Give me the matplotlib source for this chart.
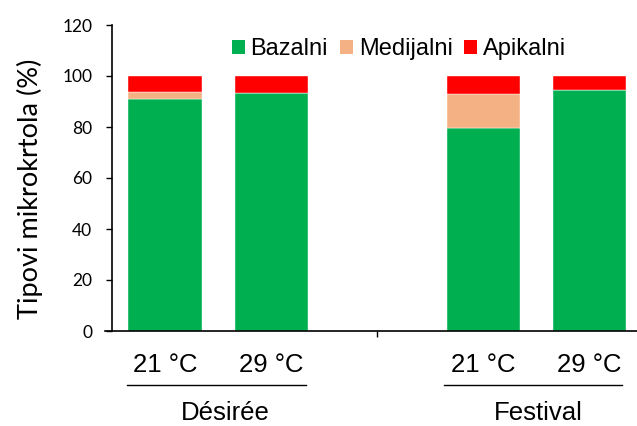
import matplotlib
matplotlib.use("Agg")
import matplotlib.pyplot as plt
import matplotlib.transforms as mtransforms
from matplotlib.patches import Patch

groups = ["Désirée", "Festival"]
temps = ["21 °C", "29 °C", "21 °C", "29 °C"]
bazalni = [91.0, 93.2, 79.7, 94.4]
medijalni = [2.7, 0.0, 13.4, 0.0]
apikalni = [6.3, 6.8, 6.9, 5.6]
series_names = ["Bazalni", "Medijalni", "Apikalni"]
colors = ["#00B050", "#F4B183", "#FF0000"]
yticks = [0, 20, 40, 60, 80, 100, 120]

positions = [0, 1, 3, 4]

fig = plt.figure(figsize=(6.37, 4.26), dpi=100)
ax = fig.add_axes([112/637, 1 - 331/426, (637 - 112)/637, (331 - 25)/426])

bottom = [0.0] * 4
for vals, col, name in zip([bazalni, medijalni, apikalni], colors, series_names):
    ax.bar(positions, vals, width=0.69, bottom=bottom, color=col,
           edgecolor="white", linewidth=0.3, label=name)
    bottom = [b + v for b, v in zip(bottom, vals)]

ax.set_ylim(0, 120)
ax.set_xlim(-0.5, 4.45)
ax.set_yticks(yticks)
ax.set_yticklabels([str(t) for t in yticks], fontfamily="Lato", fontsize=12.5)
ax.tick_params(axis="y", direction="out", length=4.3, width=1, pad=10)

ax.set_xticks(positions)
ax.set_xticklabels(temps, fontfamily="Liberation Sans", fontsize=18.5)
ax.tick_params(axis="x", length=0, pad=16)
ax.set_xticks([2], minor=True)
ax.tick_params(axis="x", which="minor", direction="out", length=4.3, width=1)

for s in ["top", "right"]:
    ax.spines[s].set_visible(False)
ax.spines["left"].set_linewidth(1.2)
ax.spines["bottom"].set_linewidth(1.2)
ax.spines["bottom"].set_bounds(-0.57, 4.6)

ax.set_ylabel("Tipovi mikrokrtola (%)", fontfamily="Lato", fontsize=19.5)
ax.yaxis.set_label_coords(-0.132, 0.464)

trans = mtransforms.blended_transform_factory(ax.transData, ax.transAxes)
line_spans = [(-0.355, 1.325), (2.63, 4.31)]
label_centers = [0.57, 3.52]
for gname, (x0, x1), lc in zip(groups, line_spans, label_centers):
    ax.plot([x0, x1], [-0.178, -0.178], color="black", lw=1,
            transform=trans, clip_on=False)
    ax.text(lc, -0.267, gname, transform=trans, ha="center", va="center",
            fontfamily="Liberation Sans", fontsize=18.5)

handles = [Patch(facecolor=c, edgecolor="none") for c in colors]
ax.legend(handles, series_names, loc="center", bbox_to_anchor=((399-112)/525, (331-49)/306),
          ncol=3, frameon=False, prop={"family": "Liberation Sans", "size": 17},
          handlelength=0.55, handleheight=0.55, handletextpad=0.25, columnspacing=0.5,
          borderaxespad=0)

fig.savefig("out.png", dpi=100)
